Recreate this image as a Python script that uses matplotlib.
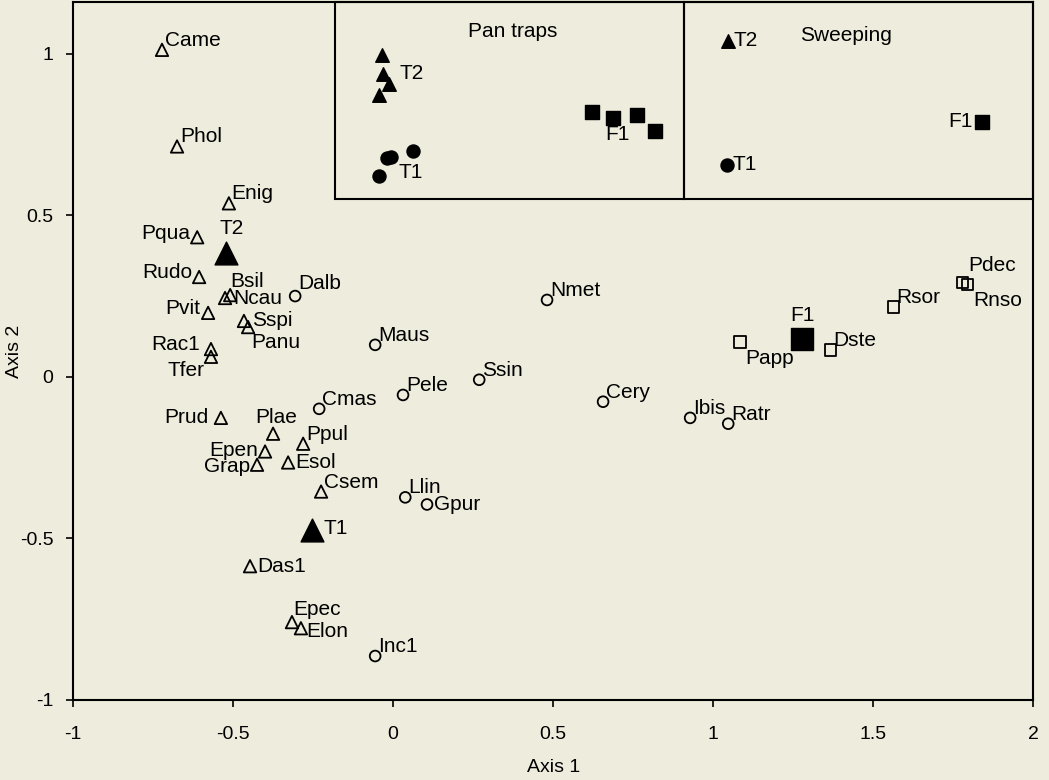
import matplotlib
matplotlib.use("Agg")
import matplotlib.pyplot as plt
from matplotlib.patches import Rectangle

plt.rcParams['font.family'] = ['Liberation Sans', 'DejaVu Sans']

# species scores: open triangles (T-group), circles, squares (F-group)
tri_names = ["Came", "Phol", "Enig", "Pqua", "Rudo", "Bsil", "Ncau", "Pvit", "Sspi", "Panu",
             "Rac1", "Tfer", "Prud", "Plae", "Ppul", "Epen", "Grap", "Esol", "Csem", "Das1",
             "Epec", "Elon"]
tri_x = [-0.722, -0.675, -0.513, -0.612, -0.606, -0.509, -0.525, -0.578, -0.466, -0.453,
         -0.569, -0.569, -0.538, -0.375, -0.281, -0.400, -0.425, -0.328, -0.225, -0.447,
         -0.316, -0.288]
tri_y = [1.012, 0.713, 0.537, 0.432, 0.309, 0.253, 0.244, 0.198, 0.173, 0.154,
         0.086, 0.062, -0.127, -0.176, -0.207, -0.231, -0.272, -0.265, -0.355, -0.586,
         -0.759, -0.778]

circ_names = ["Dalb", "Maus", "Cmas", "Pele", "Ssin", "Nmet", "Cery", "Ibis", "Ratr",
              "Llin", "Gpur", "Inc1"]
circ_x = [-0.306, -0.056, -0.231, 0.031, 0.269, 0.481, 0.656, 0.928, 1.047,
          0.038, 0.106, -0.056]
circ_y = [0.250, 0.099, -0.099, -0.056, -0.009, 0.238, -0.077, -0.127, -0.145,
          -0.373, -0.395, -0.864]

sq_names = ["Papp", "Dste", "Rsor", "Pdec", "Rnso"]
sq_x = [1.084, 1.366, 1.563, 1.778, 1.794]
sq_y = [0.108, 0.083, 0.216, 0.293, 0.287]

# habitat centroids
cent_names = ["T2", "T1", "F1"]
cent_x = [-0.522, -0.253, 1.278]
cent_y = [0.383, -0.475, 0.117]

# inset: pan traps samples
pan_t2_x = [-0.034, -0.031, -0.013, -0.044]
pan_t2_y = [0.997, 0.938, 0.907, 0.873]
pan_t1_x = [-0.044, -0.019, -0.006, 0.063]
pan_t1_y = [0.623, 0.676, 0.679, 0.698]
pan_f1_x = [0.622, 0.688, 0.763, 0.819]
pan_f1_y = [0.821, 0.802, 0.809, 0.762]

# inset: sweeping samples
sw_t2 = (1.047, 1.040)
sw_t1 = (1.044, 0.657)
sw_f1 = (1.841, 0.790)

# label placement: (dx, dy in points, ha, va)
place = {
    "Pqua": (-5, 3, "right", "center"), "Rudo": (-5, 3, "right", "center"),
    "Bsil": (0, 3, "left", "bottom"), "Ncau": (6, 0, "left", "center"),
    "Pvit": (-6, 3, "right", "center"), "Sspi": (6, 0, "left", "center"),
    "Panu": (2, -4, "left", "top"), "Rac1": (-8, 3, "right", "center"),
    "Tfer": (-5, -3, "right", "top"), "Prud": (-9, 0, "right", "center"),
    "Plae": (2, 5, "center", "bottom"), "Epen": (-5, 1, "right", "center"),
    "Grap": (-5, -1, "right", "center"), "Esol": (5, 0, "left", "center"),
    "Das1": (5, 0, "left", "center"), "Elon": (4, -2, "left", "center"),
    "Gpur": (5, 0, "left", "center"), "Papp": (4, -5, "left", "top"),
    "Rnso": (4, -5, "left", "top"), "Dalb": (2, 2, "left", "bottom"),
    "Epec": (1, 2, "left", "bottom"), "Pdec": (4, 5, "left", "bottom"),
}
default_place = (2, 0, "left", "bottom")

bg = "#eeecdc"
fig = plt.figure(figsize=(10.49, 7.8), dpi=100, facecolor=bg)
ax = fig.add_axes([0.0696, 0.1026, 0.9154, 0.8948], facecolor=bg)

ax.scatter(tri_x, tri_y, marker="^", s=80, facecolors="none", edgecolors="black", linewidths=1.3, zorder=3)
ax.scatter(circ_x, circ_y, marker="o", s=60, facecolors="none", edgecolors="black", linewidths=1.3, zorder=3)
ax.scatter(sq_x, sq_y, marker="s", s=65, facecolors="none", edgecolors="black", linewidths=1.3, zorder=3)

ax.scatter(cent_x[:2], cent_y[:2], marker="^", s=270, color="black", zorder=3)
ax.scatter(cent_x[2:], cent_y[2:], marker="s", s=230, color="black", zorder=3)

fs = 15
for names, xs, ys in [(tri_names, tri_x, tri_y), (circ_names, circ_x, circ_y), (sq_names, sq_x, sq_y)]:
    for n, x, y in zip(names, xs, ys):
        dx, dy, ha, va = place.get(n, default_place)
        ax.annotate(n, (x, y), xytext=(dx, dy), textcoords="offset points",
                    ha=ha, va=va, fontsize=fs)

ax.annotate("T2", (cent_x[0], cent_y[0]), xytext=(4, 11), textcoords="offset points",
            ha="center", va="bottom", fontsize=fs)
ax.annotate("T1", (cent_x[1], cent_y[1]), xytext=(8, 1), textcoords="offset points",
            ha="left", va="center", fontsize=fs)
ax.annotate("F1", (cent_x[2], cent_y[2]), xytext=(0, 10), textcoords="offset points",
            ha="center", va="bottom", fontsize=fs)

# inset boxes
for x0, x1 in [(-0.181, 0.909), (0.909, 2.0)]:
    ax.add_patch(Rectangle((x0, 0.549), x1 - x0, 1.16 - 0.549, facecolor="none",
                           edgecolor="black", linewidth=1.5, zorder=2, clip_on=False))
ax.text(0.375, 1.07, "Pan traps", ha="center", va="center", fontsize=fs)
ax.text(1.415, 1.055, "Sweeping", ha="center", va="center", fontsize=fs)

ax.scatter(pan_t2_x, pan_t2_y, marker="^", s=95, color="black", zorder=3)
ax.scatter(pan_t1_x, pan_t1_y, marker="o", s=88, color="black", zorder=3)
ax.scatter(pan_f1_x, pan_f1_y, marker="s", s=88, color="black", zorder=3)
ax.annotate("T2", (pan_t2_x[1], pan_t2_y[1]), xytext=(12, 0), textcoords="offset points",
            ha="left", va="center", fontsize=fs)
ax.annotate("T1", (pan_t1_x[0], pan_t1_y[0]), xytext=(14, 2), textcoords="offset points",
            ha="left", va="center", fontsize=fs)
ax.annotate("F1", (pan_f1_x[1], pan_f1_y[1]), xytext=(3, -5), textcoords="offset points",
            ha="center", va="top", fontsize=fs)

ax.scatter([sw_t2[0]], [sw_t2[1]], marker="^", s=95, color="black", zorder=3)
ax.scatter([sw_t1[0]], [sw_t1[1]], marker="o", s=88, color="black", zorder=3)
ax.scatter([sw_f1[0]], [sw_f1[1]], marker="s", s=88, color="black", zorder=3)
ax.annotate("T2", sw_t2, xytext=(4, 0), textcoords="offset points", ha="left", va="center", fontsize=fs)
ax.annotate("T1", sw_t1, xytext=(4, 0), textcoords="offset points", ha="left", va="center", fontsize=fs)
ax.annotate("F1", sw_f1, xytext=(-7, 0), textcoords="offset points", ha="right", va="center", fontsize=fs)

ax.set_xlim(-1, 2)
ax.set_ylim(-1, 1.16)
ax.set_xticks([-1, -0.5, 0, 0.5, 1, 1.5, 2])
ax.set_xticklabels(["-1", "-0.5", "0", "0.5", "1", "1.5", "2"])
ax.set_yticks([-1, -0.5, 0, 0.5, 1])
ax.set_yticklabels(["-1", "-0.5", "0", "0.5", "1"])
ax.tick_params(direction="out", length=5, width=1.2, labelsize=14)
ax.tick_params(axis="x", pad=14)
ax.tick_params(axis="y", pad=9)
for s in ax.spines.values():
    s.set_linewidth(1.5)
ax.set_xlabel("Axis 1", fontsize=14)
ax.set_ylabel("Axis 2", fontsize=14)
ax.xaxis.set_label_coords(0.5, -0.085)
ax.yaxis.set_label_coords(-0.052, 0.5)

fig.savefig("out.png", dpi=100, facecolor=bg)
